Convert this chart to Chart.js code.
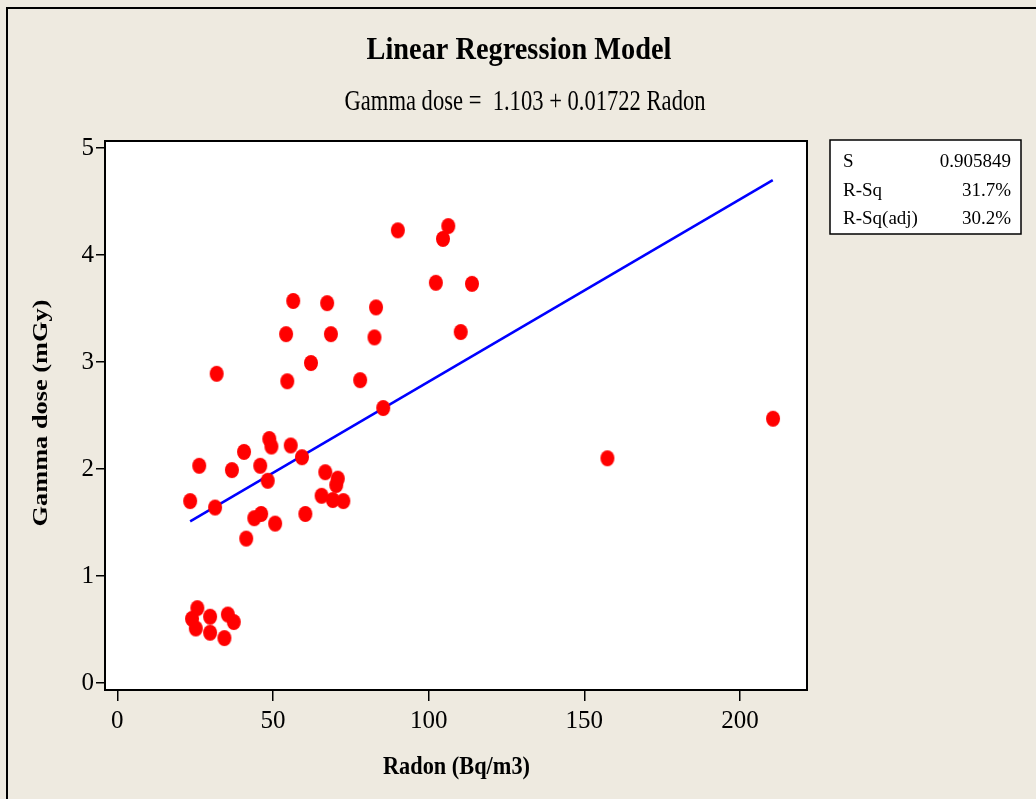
<!DOCTYPE html>
<html>
<head>
<meta charset="utf-8">
<title>Linear Regression Model</title>
<script src="https://cdn.jsdelivr.net/npm/chart.js@4/dist/chart.umd.min.js"></script>
<style>
  html, body { margin: 0; padding: 0; background: #eeeae0; }
  #wrap { width: 1036px; height: 799px; position: relative; }
</style>
</head>
<body>
<div id="wrap"><canvas id="chart"></canvas></div>
<script>
// Radon (Bq/m3) vs Gamma dose (mGy)
var radon = [23.4, 25.7, 24.0, 25.2, 29.8, 29.8, 35.5, 37.4, 34.4, 26.3,
             31.4, 31.9, 36.8, 40.7, 41.4, 44.0, 46.2, 45.9, 48.3, 48.8,
             49.5, 50.7, 54.2, 54.6, 55.7, 56.5, 59.3, 60.4, 62.2, 65.6,
             66.8, 67.4, 68.6, 69.2, 70.3, 70.8, 72.6, 78.0, 82.6, 83.1,
             85.4, 90.1, 102.3, 104.6, 106.3, 110.3, 113.9, 157.4, 210.6];
var gamma = [1.70, 0.70, 0.60, 0.51, 0.62, 0.47, 0.64, 0.57, 0.42, 2.03,
             1.64, 2.89, 1.99, 2.16, 1.35, 1.54, 1.58, 2.03, 1.89, 2.28,
             2.21, 1.49, 3.26, 2.82, 2.22, 3.57, 2.11, 1.58, 2.99, 1.75,
             1.97, 3.55, 3.26, 1.71, 1.85, 1.91, 1.70, 2.83, 3.23, 3.51,
             2.57, 4.23, 3.74, 4.15, 4.27, 3.28, 3.73, 2.10, 2.47];

// fitted line ends as drawn
var fitX = [23.4, 210.5];
var fitY = [1.51, 4.70];

var xTicks = [0, 50, 100, 150, 200];
var yTicks = [0, 1, 2, 3, 4, 5];

var titleText = 'Linear Regression Model';
var subtitleText = 'Gamma dose =  1.103 + 0.01722 Radon';
var xTitle = 'Radon (Bq/m3)';
var yTitle = 'Gamma dose (mGy)';
var statLabels = ['S', 'R-Sq', 'R-Sq(adj)'];
var statValues = ['0.905849', '31.7%', '30.2%'];

var SERIF = '"Liberation Serif", "Times New Roman", serif';

// red ellipse marker (slightly taller than wide, like the original)
var dot = document.createElement('canvas');
dot.width = 16; dot.height = 18;
(function() {
  var c = dot.getContext('2d');
  c.fillStyle = '#ff0000';
  c.beginPath();
  c.ellipse(8, 9, 7, 8, 0, 0, Math.PI * 2);
  c.fill();
})();

// draw text squeezed/stretched to a given width
function fitText(ctx, text, x, y, width, font, align) {
  ctx.save();
  ctx.font = font;
  var w = ctx.measureText(text).width;
  var sx = width / w;
  ctx.translate(x, y);
  ctx.scale(sx, 1);
  ctx.textAlign = align || 'center';
  ctx.textBaseline = 'alphabetic';
  ctx.fillText(text, 0, 0);
  ctx.restore();
}

var decor = {
  id: 'decor',
  beforeDraw: function(chart) {
    var ctx = chart.ctx, a = chart.chartArea;
    ctx.save();
    ctx.fillStyle = '#eeeae0';
    ctx.fillRect(0, 0, chart.width, chart.height);
    ctx.strokeStyle = '#000';
    ctx.lineWidth = 2;
    ctx.strokeRect(7, 8, 1100, 900);
    ctx.fillStyle = '#ffffff';
    ctx.fillRect(a.left, a.top, a.right - a.left, a.bottom - a.top);
    ctx.restore();
  },
  afterDraw: function(chart) {
    var ctx = chart.ctx, a = chart.chartArea;
    ctx.save();
    ctx.strokeStyle = '#000';
    ctx.lineWidth = 2;
    ctx.strokeRect(a.left, a.top, a.right - a.left, a.bottom - a.top);

    ctx.fillStyle = '#000';
    fitText(ctx, titleText, 519, 59, 305, 'bold 31px ' + SERIF);
    fitText(ctx, subtitleText, 525, 110, 361, '29px ' + SERIF);
    fitText(ctx, xTitle, 456.5, 774, 147, 'bold 26px ' + SERIF);

    // rotated y title
    ctx.save();
    ctx.translate(47, 413);
    ctx.rotate(-Math.PI / 2);
    ctx.font = 'bold 25px ' + SERIF;
    var w = ctx.measureText(yTitle).width;
    ctx.scale(227 / w, 0.85);
    ctx.textAlign = 'center';
    ctx.fillText(yTitle, 0, 0);
    ctx.restore();

    // stats box
    ctx.fillStyle = '#ffffff';
    ctx.fillRect(830, 140, 191, 94);
    ctx.lineWidth = 1.5;
    ctx.strokeRect(830, 140, 191, 94);
    ctx.fillStyle = '#000';
    ctx.font = '19px ' + SERIF;
    var rows = [167, 196, 224];
    for (var i = 0; i < statLabels.length; i++) {
      ctx.textAlign = 'left';
      ctx.fillText(statLabels[i], 843, rows[i]);
      ctx.textAlign = 'right';
      ctx.fillText(statValues[i], 1011, rows[i]);
    }
    ctx.restore();
  }
};

var points = radon.map(function(x, i) { return { x: x, y: gamma[i] }; });
var fitLine = fitX.map(function(x, i) { return { x: x, y: fitY[i] }; });

new Chart(document.getElementById('chart'), {
  type: 'scatter',
  data: {
    datasets: [
      { label: 'Gamma dose', data: points, pointStyle: dot, pointRadius: 8, pointHoverRadius: 8, order: 1 },
      { label: 'Fit', data: fitLine, showLine: true, borderColor: '#0000ff', borderWidth: 2.5,
        pointRadius: 0, fill: false, order: 2 }
    ]
  },
  options: {
    responsive: true,
    maintainAspectRatio: false,
    animation: false,
    devicePixelRatio: 1,
    layout: { padding: { top: 141, right: 229, left: 0, bottom: 0 } },
    plugins: { legend: { display: false }, tooltip: { enabled: false }, title: { display: false } },
    scales: {
      x: {
        type: 'linear', min: -3.95, max: 221.5,
        afterBuildTicks: function(s) { s.ticks = xTicks.map(function(v) { return { value: v }; }); },
        afterFit: function(s) { s.height = 109; },
        border: { display: false },
        grid: { drawOnChartArea: false, drawTicks: true, tickLength: 11, color: '#000', lineWidth: 1.5 },
        ticks: { color: '#000', font: { family: SERIF, size: 25 }, padding: 5, maxRotation: 0 }
      },
      y: {
        type: 'linear', min: -0.065, max: 5.065,
        afterBuildTicks: function(s) { s.ticks = yTicks.map(function(v) { return { value: v }; }); },
        afterFit: function(s) { s.width = 105; },
        border: { display: false },
        grid: { drawOnChartArea: false, drawTicks: true, tickLength: 9, color: '#000', lineWidth: 1.5 },
        ticks: { color: '#000', font: { family: SERIF, size: 25 }, padding: 2 }
      }
    }
  },
  plugins: [decor]
});
</script>
</body>
</html>
